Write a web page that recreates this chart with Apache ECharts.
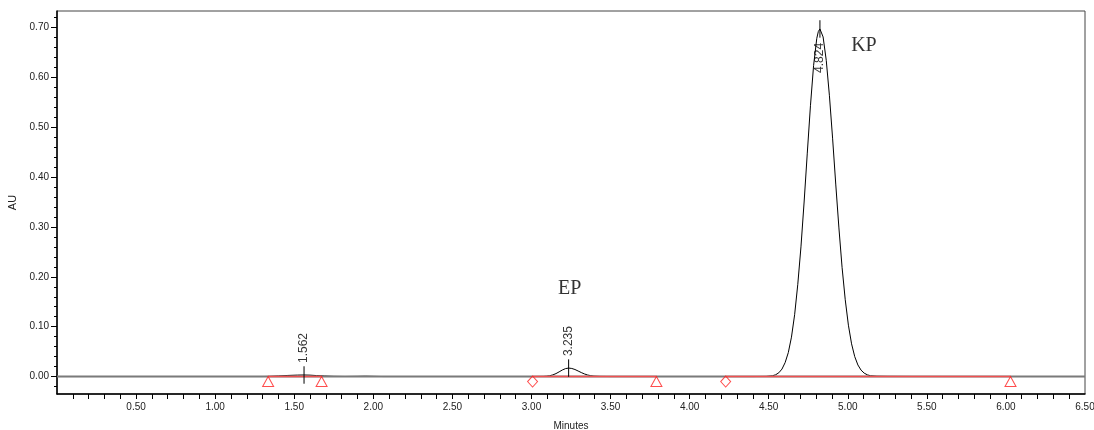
<!DOCTYPE html>
<html><head><meta charset="utf-8">
<script src="https://cdn.jsdelivr.net/npm/echarts@6/dist/echarts.min.js"></script>
<style>html,body{margin:0;padding:0;background:#fff}#c{width:1094px;height:430px}</style>
</head><body><div id="c"></div>
<script>
// Chromatogram (minutes, AU)
const chromTime = [0.00,1.30,1.34,1.40,1.46,1.52,1.562,1.60,1.64,1.69,1.75,1.82,1.90,1.95,2.00,2.06,
  3.00,3.075,3.095,3.115,3.135,3.155,3.175,3.195,3.215,3.235,3.255,3.275,3.295,3.315,3.335,3.355,3.375,3.395,3.435,3.50,
  4.40,4.484,4.524,4.544,4.564,4.584,4.604,4.624,4.644,4.664,4.684,4.704,4.724,4.744,4.764,4.784,4.804,4.814,4.824,
  4.834,4.844,4.864,4.884,4.904,4.924,4.944,4.964,4.984,5.004,5.024,5.044,5.064,5.084,5.104,5.124,5.144,5.184,5.25,5.40,6.50];
const chromAU = [0,0,0.0003,0.0012,0.0022,0.0029,0.0031,0.0028,0.0020,0.0011,0.0004,0.0001,0.0004,0.0007,0.0004,0,
  0,0.0002,0.0007,0.0016,0.0033,0.0059,0.0094,0.0131,0.0159,0.0170,0.0162,0.0141,0.0111,0.0080,0.0052,0.0031,0.0017,0.0008,0.0002,0,
  0,0.0002,0.0016,0.0036,0.0076,0.0150,0.0280,0.0480,0.0790,0.1240,0.1850,0.2600,0.3500,0.4480,0.5430,0.6240,0.6780,0.6920,0.6970,
  0.6930,0.6810,0.6340,0.5630,0.4780,0.3860,0.2980,0.2190,0.1540,0.1030,0.0656,0.0400,0.0232,0.0129,0.0068,0.0034,0.0016,0.0006,0.0003,0.0001,0];

// Peaks
const peakTimes = [1.562, 3.235, 4.824];
const peakHeights = [0.0031, 0.0170, 0.6970];
const peakNames = ['', 'EP', 'KP'];

// Integration start/end markers
const intStart = [1.335, 3.007, 4.228];
const intEnd = [1.673, 3.790, 6.029];
const triangleTimes = [1.335, 1.673, 3.790, 6.029];
const diamondTimes = [3.007, 4.228];

// Axis ticks / labels
const xMin = 0, xMax = 6.5;
const yMin = -0.035, yMax = 0.733;
const xLabelValues = [0.5,1.0,1.5,2.0,2.5,3.0,3.5,4.0,4.5,5.0,5.5,6.0,6.5];
const yLabelValues = [0.0,0.1,0.2,0.3,0.4,0.5,0.6,0.7];
const yMinorValues = [-0.02,0.02,0.04,0.06,0.08,0.12,0.14,0.16,0.18,0.22,0.24,0.26,0.28,0.32,0.34,0.36,0.38,
  0.42,0.44,0.46,0.48,0.52,0.54,0.56,0.58,0.62,0.64,0.66,0.68,0.72];
const xTickValues = [];
for (let i = 1; i <= 64; i++) xTickValues.push(i / 10);

const FONT = 'Liberation Sans, Arial, sans-serif';
const series = [];

series.push({
  type: 'line', name: 'chrom', data: chromTime.map((t, i) => [t, chromAU[i]]),
  showSymbol: false, symbol: 'none', z: 2, silent: true,
  lineStyle: { color: '#000', width: 1 }
});
series.push({
  type: 'line', data: [[xMin, 0], [xMax, 0]], symbol: 'none', z: 3, silent: true,
  lineStyle: { color: '#7a7a7a', width: 2 }
});
intStart.forEach((s, i) => {
  series.push({
    type: 'line', data: [[s, 0], [intEnd[i], 0]], symbol: 'none', z: 4, silent: true,
    lineStyle: { color: '#f05050', width: 1.5 }
  });
});
series.push({
  type: 'scatter', data: triangleTimes.map(t => [t, 0]), symbol: 'triangle',
  symbolSize: [11, 10], symbolOffset: [0, 5], z: 6, silent: true,
  itemStyle: { color: 'rgba(255,255,255,0)', borderColor: '#ff2020', borderWidth: 1 }
});
series.push({
  type: 'scatter', data: diamondTimes.map(t => [t, 0]), symbol: 'diamond',
  symbolSize: [10, 11], symbolOffset: [0, 5], z: 6, silent: true,
  itemStyle: { color: 'rgba(255,255,255,0)', borderColor: '#ff2020', borderWidth: 1 }
});
peakTimes.forEach((t, i) => {
  series.push({
    type: 'line', data: [[t, peakHeights[i] + 0.0175], [t, peakHeights[i] - 0.0175]],
    symbol: 'none', z: 7, silent: true, lineStyle: { color: '#000', width: 1 }
  });
});
series.push({
  type: 'scatter', z: 8, silent: true, symbolSize: 0,
  itemStyle: { color: 'rgba(0,0,0,0)' },
  data: peakTimes.map((t, i) => {
    const big = peakHeights[i] > 0.5;
    return {
      value: [t, peakHeights[i]],
      label: {
        show: true, formatter: t.toFixed(3), rotate: 90,
        position: big ? 'bottom' : 'top', distance: big ? 44 : 12,
        align: 'left', verticalAlign: 'middle',
        fontFamily: FONT, fontSize: 12, color: '#000'
      }
    };
  })
});
series.push({
  type: 'scatter', z: 8, silent: true, symbolSize: 0,
  itemStyle: { color: 'rgba(0,0,0,0)' },
  data: peakTimes.map((t, i) => ({
    value: [t, peakHeights[i]],
    label: {
      show: peakNames[i] !== '', formatter: peakNames[i], position: 'inside',
      offset: peakHeights[i] > 0.5 ? [44, 17] : [1, -79],
      align: 'center', verticalAlign: 'middle',
      fontFamily: 'Liberation Serif, Times New Roman, serif', fontSize: 20, color: '#000'
    }
  }))
});

const option = {
  animation: false,
  backgroundColor: '#fff',
  grid: { left: 57, right: 9, top: 11, bottom: 36, show: true, borderColor: '#444', borderWidth: 1,
    containLabel: false, outerBoundsMode: 'none' },
  xAxis: {
    type: 'value', min: xMin, max: xMax, interval: 0.5,
    name: 'Minutes', nameLocation: 'middle', nameGap: 27,
    nameTextStyle: { fontFamily: FONT, fontSize: 10, color: '#222' },
    axisLine: { show: true, onZero: false, lineStyle: { color: '#000', width: 1.5 } },
    axisTick: { show: true, customValues: xTickValues, length: 5, lineStyle: { color: '#000' } },
    axisLabel: { customValues: xLabelValues, formatter: v => v.toFixed(2), margin: 8,
      fontFamily: FONT, fontSize: 10, color: '#222', showMinLabel: true, showMaxLabel: true },
    splitLine: { show: false }
  },
  yAxis: [{
    type: 'value', min: yMin, max: yMax,
    name: 'AU', nameLocation: 'middle', nameGap: 38,
    nameTextStyle: { fontFamily: FONT, fontSize: 11, color: '#222' },
    axisLine: { show: true, onZero: false, lineStyle: { color: '#000', width: 1.5 } },
    axisTick: { show: true, customValues: yLabelValues, length: 6, lineStyle: { color: '#000' } },
    axisLabel: { customValues: yLabelValues, formatter: v => v.toFixed(2), margin: 8,
      fontFamily: FONT, fontSize: 10, color: '#222' },
    splitLine: { show: false }
  }, {
    type: 'value', min: yMin, max: yMax, position: 'left',
    axisLine: { show: false },
    axisTick: { show: true, customValues: yMinorValues, length: 3, lineStyle: { color: '#000' } },
    axisLabel: { show: false },
    splitLine: { show: false }
  }],
  series: series
};
const chart = echarts.init(document.getElementById('c'), null, { renderer: 'canvas' });
chart.setOption(option);
</script>
</body></html>
